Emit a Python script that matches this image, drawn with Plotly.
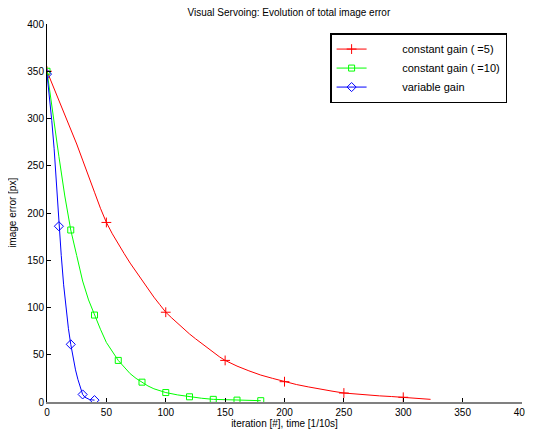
import plotly.graph_objects as go

# iteration / image error [px]
red_x = [0, 5, 10, 15, 20, 25, 30, 35, 40, 45, 50, 55, 60, 65, 70, 75, 80, 85, 90, 95,
         100, 105, 110, 115, 120, 125, 130, 135, 140, 145, 150, 160, 170, 180, 190, 200,
         210, 220, 230, 240, 250, 260, 270, 280, 290, 300, 310, 320, 323]
red_y = [350, 335, 320, 305, 290, 273, 256, 238, 222, 205, 190, 178, 167, 157, 147, 138, 128, 119, 111, 103,
         95, 89, 83, 77, 72, 67, 62, 57, 52, 48, 44, 38, 33, 28.5, 25, 21.5,
         18.5, 16, 13.5, 11.5, 9.5, 8.3, 7.3, 6.5, 5.8, 5, 4, 3, 2.8]

green_x = [0, 5, 10, 15, 20, 25, 30, 35, 40, 45, 50, 55, 60, 65, 70, 75, 80, 85, 90, 95,
           100, 110, 120, 130, 140, 150, 160, 170, 180]
green_y = [350, 303, 260, 218, 182, 155, 128, 108, 92, 77, 63, 53, 44, 37, 30, 25, 21, 17, 14, 12,
           10, 7.5, 5.5, 4, 2.8, 2.3, 2, 1.6, 1.4]

blue_x = [0, 2, 4, 6, 8, 10, 12, 14, 16, 18, 20, 22, 24, 26, 28, 30, 32, 34, 36, 38, 40]
blue_y = [347, 325, 298, 268, 231, 186, 155, 124, 100, 78, 61, 46, 34, 24, 16, 8, 5, 3.5, 2.5, 2.2, 2]

red_marks = [0, 50, 100, 150, 200, 250, 300]
green_marks = [0, 20, 40, 60, 80, 100, 120, 140, 160, 180]
blue_marks = [0, 10, 20, 30, 40]

pad = "\u00a0" * 10
series = [
    ("constant gain ( =5)", red_x, red_y, red_marks, "#ff0000", "cross-thin", 7),
    ("constant gain ( =10)", green_x, green_y, green_marks, "#00ff00", "square-open", 6),
    ("variable gain", blue_x, blue_y, blue_marks, "#0000ff", "diamond-open", 7),
]

FONT = "Liberation Sans, Arial, sans-serif"

fig = go.Figure()
for name, xs, ys, marks, color, symbol, size in series:
    fig.add_trace(go.Scatter(x=xs, y=ys, mode="lines", line=dict(color=color, width=1),
                             showlegend=False, legendgroup=name, hoverinfo="skip"))
    mx = [x for x in xs if x in marks]
    my = [y for x, y in zip(xs, ys) if x in marks]
    fig.add_trace(go.Scatter(x=mx, y=my, mode="markers", showlegend=False, legendgroup=name,
                             marker=dict(symbol=symbol, size=size, color=color,
                                         line=dict(color=color, width=1))))
    fig.add_trace(go.Scatter(x=[None], y=[None], mode="lines+markers", name=pad + name,
                             legendgroup=name, line=dict(color=color, width=1),
                             marker=dict(symbol=symbol, size=size, color=color,
                                         line=dict(color=color, width=1))))

axis_common = dict(range=[0, 400], dtick=50, ticks="inside", ticklen=4, tickcolor="black",
                   showgrid=False, zeroline=False, automargin=False,
                   tickfont=dict(size=10, color="black"),
                   title_font=dict(size=10, color="black"))

fig.update_xaxes(title_text="iteration [#], time [1/10s]", showline=True, linecolor="#808080",
                 linewidth=2, title_standoff=2, **axis_common)
fig.update_yaxes(showline=True, linecolor="black", linewidth=1, **axis_common)

# y title as annotation so it can sit further left than standoff allows
fig.add_annotation(text="image error [px]", textangle=-90, xref="paper", yref="paper",
                   x=-0.074, y=0.5, xanchor="center", yanchor="middle", showarrow=False,
                   font=dict(size=10, color="black"))

# the page body adds an 8px offset, so the figure is drawn 8px smaller
fig.update_layout(
    width=525, height=426,
    margin=dict(l=39, r=11, t=16, b=32),
    paper_bgcolor="white", plot_bgcolor="white",
    font=dict(family=FONT, size=10, color="black"),
    title=dict(text="Visual Servoing: Evolution of total image error", x=0.535, xanchor="center",
               y=0.99, yanchor="middle", font=dict(size=10, color="black")),
    legend=dict(x=0.596, y=0.976, xanchor="left", yanchor="top", bgcolor="white",
                bordercolor="black", borderwidth=1.5, font=dict(size=11, color="black"),
                tracegroupgap=0, itemwidth=30),
)

fig.write_html("out.html")
